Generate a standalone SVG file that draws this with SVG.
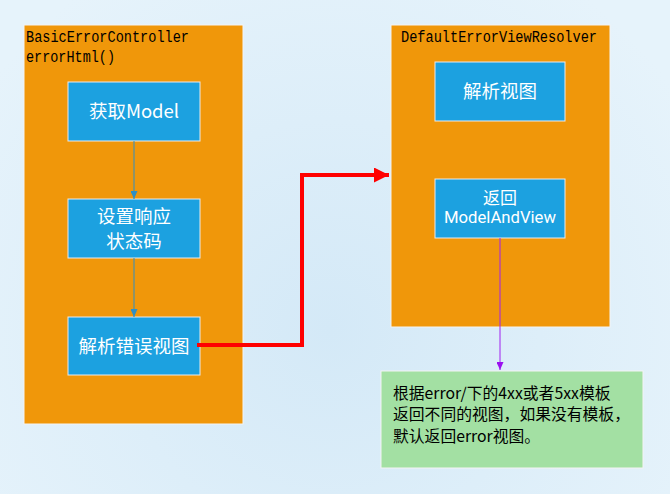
<svg xmlns="http://www.w3.org/2000/svg" width="670" height="494" viewBox="0 0 670 494">
<defs>
<radialGradient id="bg" cx="330" cy="330" r="420" gradientUnits="userSpaceOnUse">
<stop offset="0" stop-color="#d4e9f7"/>
<stop offset="1" stop-color="#e6f3fb"/>
</radialGradient>
<marker id="ab" viewBox="0 0 8 7" refX="8" refY="3.5" markerWidth="8" markerHeight="7" markerUnits="userSpaceOnUse" orient="auto">
<path d="M0,0 L8,3.5 L0,7 Z" fill="#2f8fc4"/>
</marker>
<marker id="ap" viewBox="0 0 8 7" refX="8" refY="3.5" markerWidth="8" markerHeight="7" markerUnits="userSpaceOnUse" orient="auto">
<path d="M0,0 L8,3.5 L0,7 Z" fill="#9a10f0"/>
</marker>
<marker id="ar" viewBox="0 0 15 15" refX="15" refY="7.5" markerWidth="15" markerHeight="15" markerUnits="userSpaceOnUse" orient="auto">
<path d="M0,0 L15,7.5 L0,15 Z" fill="#ff0000"/>
</marker>
</defs>
<style>
.cont{fill:#f0970a;stroke:#f4f4f4;stroke-width:1}
.box{fill:#1ca1e0;stroke:#eaeaea;stroke-width:1}
.note{fill:#a3e0a3;stroke:#f4f4f4;stroke-width:1}
.mono{font-family:"Liberation Mono","DejaVu Sans Mono",monospace;font-size:16px;fill:#000}
.bt{font-family:"Noto Sans CJK SC","Noto Sans",sans-serif;font-size:18.5px;fill:#fff;text-anchor:middle}
.bs{font-family:"Noto Sans CJK SC","Noto Sans",sans-serif;font-size:17px;fill:#fff;text-anchor:middle}
.bl{font-family:Roboto,"Liberation Sans",sans-serif;font-size:16px;fill:#fff;text-anchor:middle}
.nt{font-family:"Noto Sans CJK SC","Noto Sans",sans-serif;font-size:15.8px;fill:#000}
</style>
<rect x="0" y="0" width="670" height="494" fill="url(#bg)"/>
<g id="left-container">
<rect class="cont" x="24" y="25" width="219" height="399"/>
<text class="mono" x="26" y="42" textLength="163" lengthAdjust="spacingAndGlyphs">BasicErrorController</text>
<text class="mono" x="26" y="62" textLength="89" lengthAdjust="spacingAndGlyphs">errorHtml()</text>
</g>
<g id="right-container">
<rect class="cont" x="391" y="25" width="219" height="302"/>
<text class="mono" x="401" y="42" textLength="196" lengthAdjust="spacingAndGlyphs">DefaultErrorViewResolver</text>
</g>
<g id="node-get-model">
<rect class="box" x="68" y="82" width="132" height="59"/>
<text class="bt" x="134" y="118">获取Model</text>
</g>
<g id="node-set-status">
<rect class="box" x="68" y="199" width="132" height="59"/>
<text class="bt" x="134" y="223">设置响应</text>
<text class="bt" x="134" y="248">状态码</text>
</g>
<g id="node-resolve-error-view">
<rect class="box" x="68" y="317" width="132" height="58"/>
<text class="bt" x="134" y="353">解析错误视图</text>
</g>
<g id="node-resolve-view">
<rect class="box" x="435" y="62" width="130" height="59"/>
<text class="bt" x="500" y="98">解析视图</text>
</g>
<g id="node-return-mav">
<rect class="box" x="435" y="179" width="130" height="59"/>
<text class="bs" x="500" y="203.5">返回</text>
<text class="bl" x="500" y="223" textLength="112" lengthAdjust="spacingAndGlyphs">ModelAndView</text>
</g>
<g id="node-note">
<rect class="note" x="381" y="371" width="262" height="97"/>
<text class="nt" x="393" y="398.5">根据error/下的4xx或者5xx模板</text>
<text class="nt" x="393" y="420">返回不同的视图，如果没有模板，</text>
<text class="nt" x="393" y="441.5">默认返回error视图。</text>
</g>
<g id="connectors" fill="none">
<line x1="134" y1="141" x2="134" y2="199" stroke="#2f8fc4" stroke-width="1" marker-end="url(#ab)"/>
<line x1="134" y1="258" x2="134" y2="317" stroke="#2f8fc4" stroke-width="1" marker-end="url(#ab)"/>
<polyline points="197,345 302,345 302,175 389,175" stroke="#ff0000" stroke-width="4" marker-end="url(#ar)"/>
<line x1="500" y1="238" x2="500" y2="370" stroke="#a020f0" stroke-width="1" marker-end="url(#ap)"/>
</g>
</svg>
